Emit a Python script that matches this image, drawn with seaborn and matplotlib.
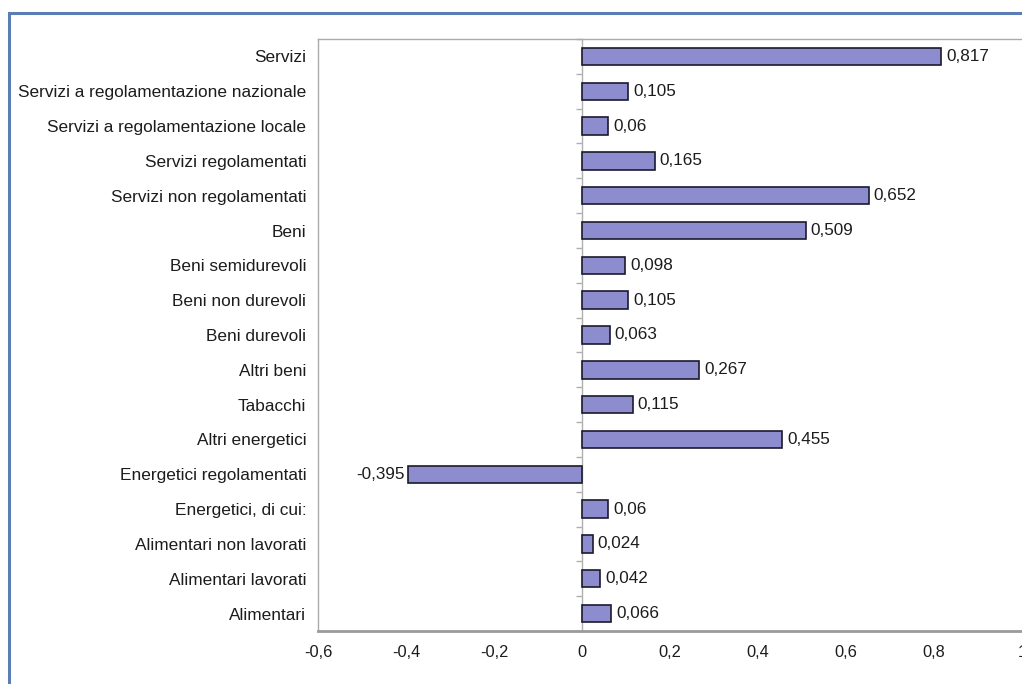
import matplotlib
matplotlib.use("Agg")
import matplotlib.pyplot as plt
import seaborn as sns
import pandas as pd
from matplotlib.patches import Rectangle

categories = [
    "Servizi",
    "Servizi a regolamentazione nazionale",
    "Servizi a regolamentazione locale",
    "Servizi regolamentati",
    "Servizi non regolamentati",
    "Beni",
    "Beni semidurevoli",
    "Beni non durevoli",
    "Beni durevoli",
    "Altri beni",
    "Tabacchi",
    "Altri energetici",
    "Energetici regolamentati",
    "Energetici, di cui:",
    "Alimentari non lavorati",
    "Alimentari lavorati",
    "Alimentari",
]
values = [0.817, 0.105, 0.06, 0.165, 0.652, 0.509, 0.098, 0.105, 0.063,
          0.267, 0.115, 0.455, -0.395, 0.06, 0.024, 0.042, 0.066]
x_ticks = [-0.6, -0.4, -0.2, 0, 0.2, 0.4, 0.6, 0.8, 1.0]
x_tick_labels = ["-0,6", "-0,4", "-0,2", "0", "0,2", "0,4", "0,6", "0,8", "1"]

sns.set_theme(style="white")
plt.rcParams["font.family"] = ["Liberation Sans", "DejaVu Sans"]

df = pd.DataFrame({"categoria": categories, "valore": values})

fig = plt.figure(figsize=(10.22, 6.84), dpi=100)
ax = fig.add_axes([318 / 1022, 1 - 631 / 684, (1022 - 318) / 1022, (631 - 39) / 684])

sns.barplot(data=df, x="valore", y="categoria", orient="h", ax=ax,
            color="#8c8cce", saturation=1, width=0.5,
            edgecolor="#1a1a2e", linewidth=1.2)

ax.set_xlim(-0.6, 1.0)
ax.set_ylim(len(categories) - 0.5, -0.5)
ax.set_xlabel("")
ax.set_ylabel("")

text_color = "#1c1c1c"

# value labels, written with a decimal comma
for i, v in enumerate(values):
    txt = str(v).replace(".", ",")
    if v >= 0:
        ax.text(v + 0.011, i, txt, va="center", ha="left", fontsize=12.3, color=text_color)
    else:
        ax.text(v - 0.009, i, txt, va="center", ha="right", fontsize=12.3, color=text_color)

# category axis labels
ax.set_yticks(range(len(categories)))
ax.set_yticklabels(categories, fontsize=12.4, color=text_color)
ax.tick_params(axis="y", length=0, pad=8.5)

# value axis
ax.set_xticks(x_ticks)
ax.set_xticklabels(x_tick_labels, fontsize=11.8, color=text_color)
ax.tick_params(axis="x", length=4, width=1, color="#999999", direction="out", pad=6)

for side in ["top", "left"]:
    ax.spines[side].set_color("#aaaaaa")
    ax.spines[side].set_linewidth(1.0)
ax.spines["bottom"].set_color("#9a9a9a")
ax.spines["bottom"].set_linewidth(2.0)
ax.spines["right"].set_visible(False)

# zero line with category separators
zero_pos = (0 - ax.get_xlim()[0]) / (ax.get_xlim()[1] - ax.get_xlim()[0])
zax = ax.secondary_yaxis(zero_pos)
zax.spines["left"].set_color("#b0b0b0")
zax.spines["left"].set_linewidth(1.0)
zax.set_yticks([i + 0.5 for i in range(-1, len(categories))])
zax.set_yticklabels([])
zax.tick_params(axis="y", length=4, width=1, color="#b0b0b0", direction="out")
ax.set_zorder(1)

# outer frame
fig.patches.append(Rectangle((9 / 1022, -0.1), 1.2, 1 - 13 / 684 + 0.1,
                             transform=fig.transFigure, fill=False,
                             edgecolor="#5a7db5", linewidth=2.2))

fig.savefig("out.png", dpi=100)
